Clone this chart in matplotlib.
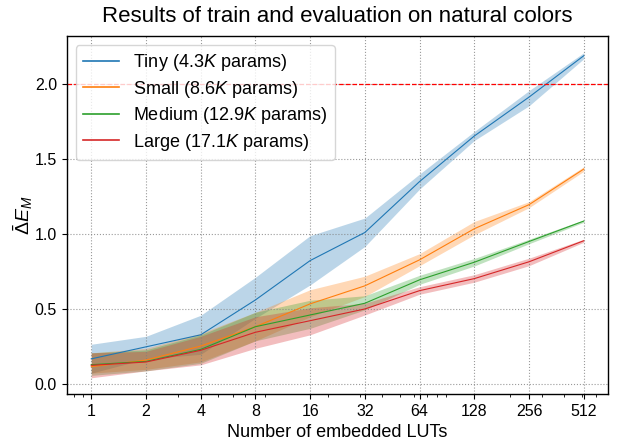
import matplotlib
matplotlib.use("Agg")
import matplotlib.pyplot as plt

plt.rcParams['font.family'] = ['Liberation Sans', 'DejaVu Sans']
plt.rcParams['mathtext.fontset'] = 'custom'
plt.rcParams['mathtext.rm'] = 'Liberation Sans'
plt.rcParams['mathtext.it'] = 'Liberation Sans:italic'
plt.rcParams['mathtext.bf'] = 'Liberation Sans:bold'

luts = [1, 2, 4, 8, 16, 32, 64, 128, 256, 512]
tick_labels = ['1', '2', '4', '8', '16', '32', '64', '128', '256', '512']

labels = ['Tiny (4.3$K$ params)', 'Small (8.6$K$ params)',
          'Medium (12.9$K$ params)', 'Large (17.1$K$ params)']
colors = ['#1f77b4', '#ff7f0e', '#2ca02c', '#d62728']

tiny_mean = [0.170, 0.250, 0.330, 0.562, 0.824, 1.011, 1.350, 1.653, 1.912, 2.187]
tiny_low = [0.075, 0.170, 0.200, 0.440, 0.662, 0.918, 1.300, 1.623, 1.854, 2.167]
tiny_high = [0.267, 0.320, 0.460, 0.713, 0.990, 1.107, 1.400, 1.683, 1.955, 2.207]

small_mean = [0.118, 0.162, 0.255, 0.384, 0.536, 0.656, 0.829, 1.036, 1.196, 1.433]
small_low = [0.075, 0.100, 0.150, 0.290, 0.450, 0.585, 0.790, 0.996, 1.176, 1.418]
small_high = [0.210, 0.240, 0.340, 0.480, 0.630, 0.720, 0.870, 1.084, 1.216, 1.448]

medium_mean = [0.131, 0.153, 0.233, 0.384, 0.462, 0.540, 0.696, 0.813, 0.951, 1.087]
medium_low = [0.060, 0.090, 0.140, 0.290, 0.373, 0.496, 0.666, 0.788, 0.936, 1.079]
medium_high = [0.210, 0.230, 0.330, 0.480, 0.560, 0.590, 0.726, 0.838, 0.966, 1.095]

large_mean = [0.127, 0.149, 0.227, 0.347, 0.424, 0.502, 0.624, 0.704, 0.816, 0.956]
large_low = [0.044, 0.090, 0.130, 0.240, 0.330, 0.462, 0.600, 0.680, 0.790, 0.946]
large_high = [0.210, 0.220, 0.320, 0.450, 0.510, 0.540, 0.650, 0.730, 0.840, 0.966]

threshold = 2.0

means = [tiny_mean, small_mean, medium_mean, large_mean]
lows = [tiny_low, small_low, medium_low, large_low]
highs = [tiny_high, small_high, medium_high, large_high]

fig = plt.figure(figsize=(6.17, 4.40), dpi=100)
ax = fig.add_axes([0.108, 0.1045, 0.878, 0.8135])

for m, lo, hi, c, lab in zip(means, lows, highs, colors, labels):
    ax.plot(luts, m, color=c, lw=0.8, label=lab)
    ax.fill_between(luts, lo, hi, color=c, alpha=0.3, lw=0)

ax.axhline(threshold, color='red', ls='--', lw=0.9)

ax.set_xscale('log')
ax.set_xticks(luts)
ax.set_xticklabels(tick_labels)
ax.set_ylim(-0.064, 2.318)
ax.tick_params(axis='both', labelsize=11.5)
ax.grid(True, which='major', ls=':', color='gray', lw=0.8, alpha=0.8)

for s in ax.spines.values():
    s.set_linewidth(1.0)
    s.set_color('black')

ax.set_xlabel('Number of embedded LUTs', fontsize=13)
ax.set_ylabel(r'$\bar{\Delta}E_M$', fontsize=14, labelpad=0)
ax.set_title('Results of train and evaluation on natural colors', fontsize=16, pad=10)
leg = ax.legend(loc='upper left', fontsize=13, labelspacing=0.3)
for h in leg.get_lines():
    h.set_linewidth(1.2)

fig.savefig('out.png', dpi=100)
